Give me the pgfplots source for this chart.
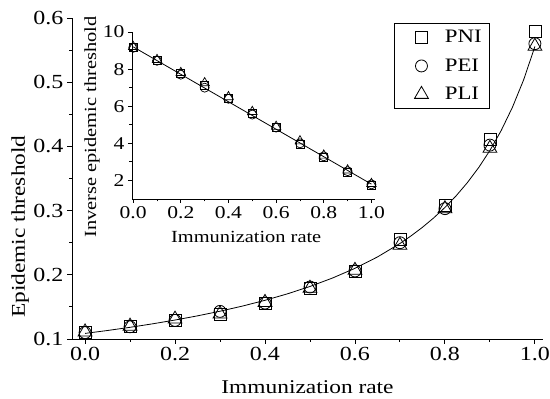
\documentclass[border=0pt]{standalone}
\usepackage{fontspec}
\setmainfont[FakeStretch=1.2]{Liberation Serif}
\usepackage{pgfplots}
\usepackage{pgfplotstable}
\pgfplotsset{compat=1.18}

\pgfplotstableread{
x    pni    pei    pli
0.0  0.110  0.110  0.111
0.1  0.119  0.119  0.120
0.2  0.129  0.129  0.131
0.3  0.139  0.143  0.139
0.4  0.156  0.156  0.157
0.5  0.179  0.181  0.179
0.6  0.206  0.206  0.207
0.7  0.255  0.250  0.246
0.8  0.308  0.303  0.303
0.9  0.411  0.402  0.397
1.0  0.579  0.560  0.556
}\maintab

\pgfplotstableread{
x    pni   pei   pli
0.0  9.15  9.15  9.20
0.1  8.45  8.45  8.50
0.2  7.75  7.70  7.80
0.3  7.15  7.00  7.25
0.4  6.45  6.40  6.50
0.5  5.60  5.55  5.70
0.6  4.85  4.85  4.90
0.7  3.92  4.00  4.12
0.8  3.25  3.30  3.35
0.9  2.45  2.50  2.55
1.0  1.74  1.79  1.82
}\insettab

\pgfplotstableread{
x      y
0.000  0.10870
0.050  0.11325
0.100  0.11820
0.150  0.12361
0.200  0.12953
0.250  0.13605
0.300  0.14327
0.350  0.15129
0.400  0.16026
0.450  0.17036
0.500  0.18182
0.550  0.19493
0.600  0.21008
0.650  0.22779
0.700  0.24876
0.725  0.26076
0.750  0.27397
0.775  0.28860
0.800  0.30488
0.825  0.32310
0.850  0.34364
0.875  0.36697
0.900  0.39370
0.925  0.42463
0.950  0.46083
0.975  0.50378
1.000  0.55556
}\fittab

\begin{document}
\begin{tikzpicture}[x=1pt,y=1pt]
\useasboundingbox (0,0) rectangle (550,399);
\begin{axis}[
  at={(72pt,60pt)}, anchor=south west, scale only axis,
  width=471pt, height=321pt,
  xmin=-0.029, xmax=1.018, ymin=0.1, ymax=0.6,
  axis x line=bottom, axis y line=left,
  axis line style={-, line width=0.9pt, black},
  tick align=outside, major tick length=5pt, minor tick length=3pt,
  tick style={line width=0.9pt, black},
  xtick={0,0.2,0.4,0.6,0.8,1.0}, minor xtick={0.1,0.3,0.5,0.7,0.9},
  ytick={0.1,0.2,0.3,0.4,0.5,0.6}, minor ytick={0.15,0.25,0.35,0.45,0.55},
  /pgf/number format/assume math mode=true,
  xticklabel style={/pgf/number format/.cd, fixed, fixed zerofill, precision=1},
  yticklabel style={/pgf/number format/.cd, fixed, fixed zerofill, precision=1},
  tick label style={font=\fontsize{20}{20}\selectfont},
  xlabel={Immunization rate}, ylabel={Epidemic threshold},
  label style={font=\fontsize{19.5}{19.5}\selectfont},
  xlabel style={at={(axis description cs:0.5,-0.1713)}, anchor=base, inner sep=0pt},
  ylabel style={at={(axis description cs:-0.0998,0.35)}, anchor=base, inner sep=0pt},
  legend style={at={(0.8875,0.984)}, anchor=north east, draw=black, line width=0.8pt,
    font=\fontsize{19}{19}\selectfont, row sep=10.5pt, inner xsep=6pt, inner ysep=5pt},
  legend cell align=left,
  legend image code/.code={\path (0pt,0pt) (42pt,0pt); \draw[#1] plot coordinates {(21pt,0pt)};},
]
\addplot[black, line width=0.8pt, forget plot] table[x=x, y=y] {\fittab};
\addplot[only marks, mark=square, mark size=6pt, mark options={black, line width=0.8pt}] table[x=x, y=pni] {\maintab};
\addlegendentry{PNI}
\addplot[only marks, mark=o, mark size=6pt, mark options={black, line width=0.8pt}] table[x=x, y=pei] {\maintab};
\addlegendentry{PEI}
\addplot[only marks, mark=triangle, mark size=8pt, mark options={black, line width=0.8pt}] table[x=x, y=pli] {\maintab};
\addlegendentry{PLI}
\end{axis}

\begin{axis}[
  at={(132pt,200pt)}, anchor=south west, scale only axis,
  width=243pt, height=167pt,
  xmin=-0.005, xmax=1.015, ymin=1, ymax=10,
  axis x line=bottom, axis y line=left,
  axis line style={-, line width=0.9pt, black},
  tick align=outside, major tick length=4pt, minor tick length=2.5pt,
  tick style={line width=0.8pt, black},
  xtick={0,0.2,0.4,0.6,0.8,1.0}, minor xtick={0.1,0.3,0.5,0.7,0.9},
  ytick={2,4,6,8,10}, minor ytick={3,5,7,9},
  /pgf/number format/assume math mode=true,
  xticklabel style={/pgf/number format/.cd, fixed, fixed zerofill, precision=1},
  tick label style={font=\fontsize{18}{18}\selectfont},
  xlabel={Immunization rate}, ylabel={Inverse epidemic threshold},
  label style={font=\fontsize{17}{17}\selectfont},
  xlabel style={at={(axis description cs:0.47,-0.2635)}, anchor=base, inner sep=0pt},
  ylabel style={at={(axis description cs:-0.148,0.43)}, anchor=base, inner sep=0pt},
]
\addplot[black, line width=0.8pt] coordinates {(0,9.2) (1,1.8)};
\addplot[only marks, mark=square, mark size=4pt, mark options={black, line width=0.7pt}] table[x=x, y=pni] {\insettab};
\addplot[only marks, mark=o, mark size=4.5pt, mark options={black, line width=0.7pt}] table[x=x, y=pei] {\insettab};
\addplot[only marks, mark=triangle, mark size=5.5pt, mark options={black, line width=0.7pt}] table[x=x, y=pli] {\insettab};
\end{axis}
\end{tikzpicture}
\end{document}
